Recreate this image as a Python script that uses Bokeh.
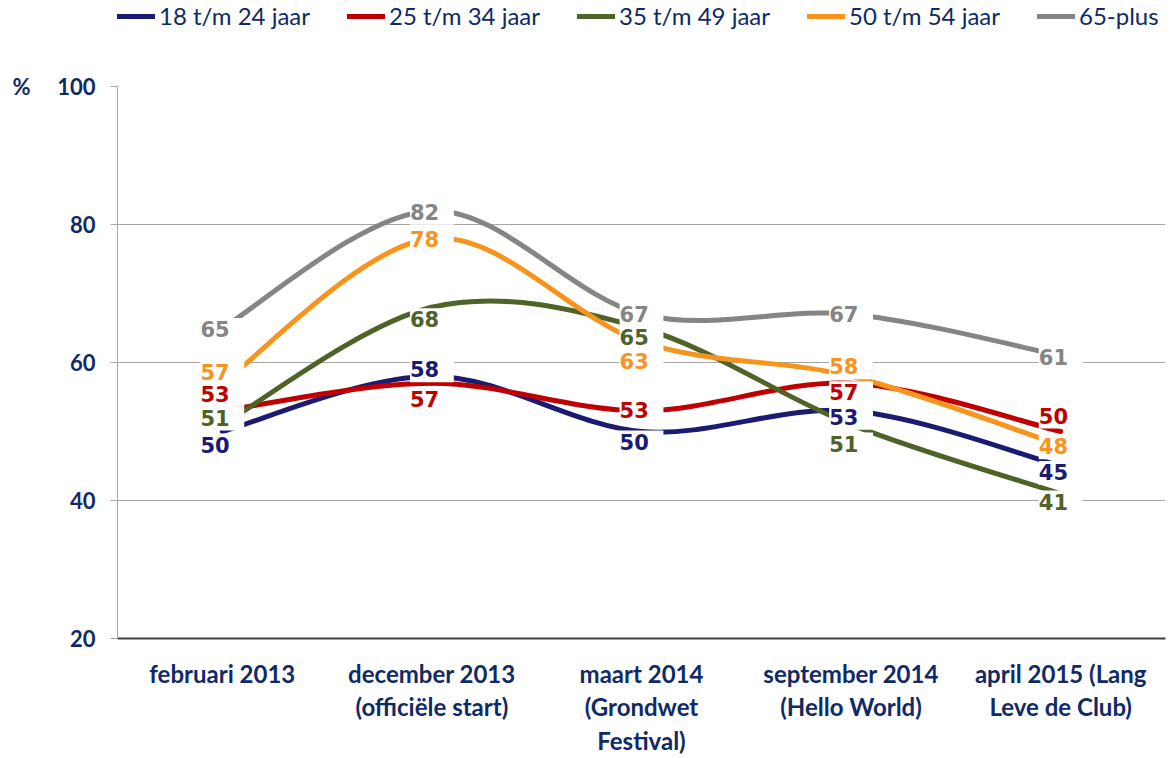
import numpy as np
from bokeh.plotting import figure
from bokeh.layouts import column
from bokeh.models import (ColumnDataSource, LabelSet, Legend, LegendItem,
                          FixedTicker, Range1d, LinearAxis)
from bokeh.embed import file_html
from bokeh.resources import INLINE
from bokeh.core.properties import value

# ---------------- data ----------------
categories = [
    "februari 2013",
    "december 2013\n(officiële start)",
    "maart 2014\n(Grondwet\nFestival)",
    "september 2014\n(Hello World)",
    "april 2015 (Lang\nLeve de Club)",
]
series_names = ["18 t/m 24 jaar", "25 t/m 34 jaar", "35 t/m 49 jaar",
                "50 t/m 54 jaar", "65-plus"]
age_18_24 = [50, 58, 50, 53, 45]
age_25_34 = [53, 57, 53, 57, 50]
age_35_49 = [51, 68, 65, 51, 41]
age_50_54 = [57, 78, 63, 58, 48]
age_65_plus = [65, 82, 67, 67, 61]
y_ticks = [20, 40, 60, 80, 100]
unit_label = "%"

# ---------------- styling ----------------
colors = ["#1B1B72", "#C00000", "#4F6228", "#F7941D", "#858585"]
# manual label nudges (pixels, positive = up), like Excel's moved labels
label_nudges = [
    [-14, 6, -11, -7, -7],
    [16, -17, 0, -10, 15],
    [6, -13, -10, -20, -9],
    [10, -2, -20, 9, -2],
    [-2, -2, -1, -1, -2],
]
NAVY = "#0F2A66"
GRID = "#A6A6A6"
LEGEND_H = 40

all_series = [age_18_24, age_25_34, age_35_49, age_50_54, age_65_plus]
xpos = list(range(len(categories)))

# ---------------- legend strip ----------------
lg = figure(width=1169, height=LEGEND_H, output_backend="svg",
            toolbar_location=None, x_axis_location=None, y_axis_location=None,
            x_range=Range1d(0, 1), y_range=Range1d(0, 1),
            min_border_left=0, min_border_right=0, min_border_top=0,
            min_border_bottom=0)
lg.outline_line_color = None
lg.grid.grid_line_color = None
legend_items = []
for name, col in zip(series_names, colors):
    r = lg.line(x=[-5, -4], y=[-5, -4], line_color=col, line_width=5,
                line_cap="round")
    legend_items.append(LegendItem(label=name, renderers=[r]))
legend = Legend(items=legend_items, orientation="horizontal",
                location=(0, 10), label_text_font="Lato",
                label_text_font_size="24px", label_text_color=NAVY,
                glyph_width=38, glyph_height=22, label_standoff=4,
                label_height=22, spacing=37, padding=0, margin=0,
                border_line_color=None, background_fill_alpha=0)
lg.add_layout(legend)

# ---------------- main chart ----------------
p = figure(width=1169, height=758 - LEGEND_H, output_backend="svg",
           toolbar_location=None,
           x_range=Range1d(-0.5, len(categories) - 0.5),
           y_range=Range1d(y_ticks[0], y_ticks[-1]),
           min_border_left=117, min_border_right=4,
           min_border_top=86 - LEGEND_H, min_border_bottom=119)
p.outline_line_color = None
p.background_fill_color = "white"
p.border_fill_color = "white"


def smooth_segments(xs, ys):
    """Catmull-Rom style Bezier control points (Excel 'smoothed line')."""
    n = len(xs)
    d = {k: [] for k in ["x0", "y0", "x1", "y1", "cx0", "cy0", "cx1", "cy1"]}
    for i in range(n - 1):
        xa, ya = (xs[i - 1], ys[i - 1]) if i > 0 else (xs[i], ys[i])
        xb, yb = xs[i], ys[i]
        xc, yc = xs[i + 1], ys[i + 1]
        xd, yd = (xs[i + 2], ys[i + 2]) if i + 2 < n else (xs[i + 1], ys[i + 1])
        d["x0"].append(xb); d["y0"].append(yb)
        d["x1"].append(xc); d["y1"].append(yc)
        d["cx0"].append(xb + (xc - xa) / 6.0); d["cy0"].append(yb + (yc - ya) / 6.0)
        d["cx1"].append(xc - (xd - xb) / 6.0); d["cy1"].append(yc - (yd - yb) / 6.0)
    return d


for vals, col in zip(all_series, colors):
    src = ColumnDataSource(smooth_segments(xpos, vals))
    p.bezier(x0="x0", y0="y0", x1="x1", y1="y1", cx0="cx0", cy0="cy0",
             cx1="cx1", cy1="cy1", source=src, line_color=col,
             line_width=5, line_cap="round")

for vals, col, nud in zip(all_series, colors, label_nudges):
    lsrc = ColumnDataSource(dict(x=xpos, y=vals, t=[" %d " % v for v in vals], dy=nud))
    p.add_layout(LabelSet(x="x", y="y", text="t", y_offset="dy", source=lsrc,
                          text_align="center", text_baseline="middle",
                          text_font=value("DejaVu Sans"), text_font_style="bold",
                          text_font_size="21px", text_color=col,
                          background_fill_color="white"))

# axes
p.xaxis.ticker = FixedTicker(ticks=xpos)
p.xaxis.major_label_overrides = {i: c for i, c in enumerate(categories)}
p.xaxis.major_tick_out = 0
p.xaxis.major_tick_in = 0
p.xaxis.minor_tick_out = 0
p.xaxis.axis_line_color = "#404040"
p.xaxis.axis_line_width = 2
p.xaxis.major_label_text_font = "Lato"
p.xaxis.major_label_text_font_style = "bold"
p.xaxis.major_label_text_font_size = "24px"
p.xaxis.major_label_text_color = NAVY
p.xaxis.major_label_text_line_height = 1.17
p.xaxis.major_label_standoff = 20

p.yaxis.ticker = FixedTicker(ticks=y_ticks)
p.yaxis.major_tick_out = 7
p.yaxis.major_tick_in = 0
p.yaxis.minor_tick_out = 0
p.yaxis.minor_tick_in = 0
p.yaxis.major_tick_line_color = GRID
p.yaxis.axis_line_color = GRID
p.yaxis.major_label_text_font = "Lato"
p.yaxis.major_label_text_font_style = "bold"
p.yaxis.major_label_text_font_size = "22px"
p.yaxis.major_label_text_color = NAVY
p.yaxis.major_label_standoff = 15

# outer axis that only carries the "%" unit marker at the top tick
unit_axis = LinearAxis(ticker=FixedTicker(ticks=[y_ticks[-1]]),
                       major_label_overrides={y_ticks[-1]: unit_label},
                       axis_line_color=None, major_tick_line_color=None,
                       minor_tick_line_color=None, major_label_standoff=18,
                       major_label_text_font="Lato",
                       major_label_text_font_style="bold",
                       major_label_text_font_size="22px",
                       major_label_text_color=NAVY)
p.add_layout(unit_axis, "left")

p.xgrid.grid_line_color = None
p.ygrid.grid_line_color = GRID
p.ygrid.grid_line_width = 1

layout = column(lg, p, spacing=0)
open("out.html", "w").write(file_html(layout, INLINE))
